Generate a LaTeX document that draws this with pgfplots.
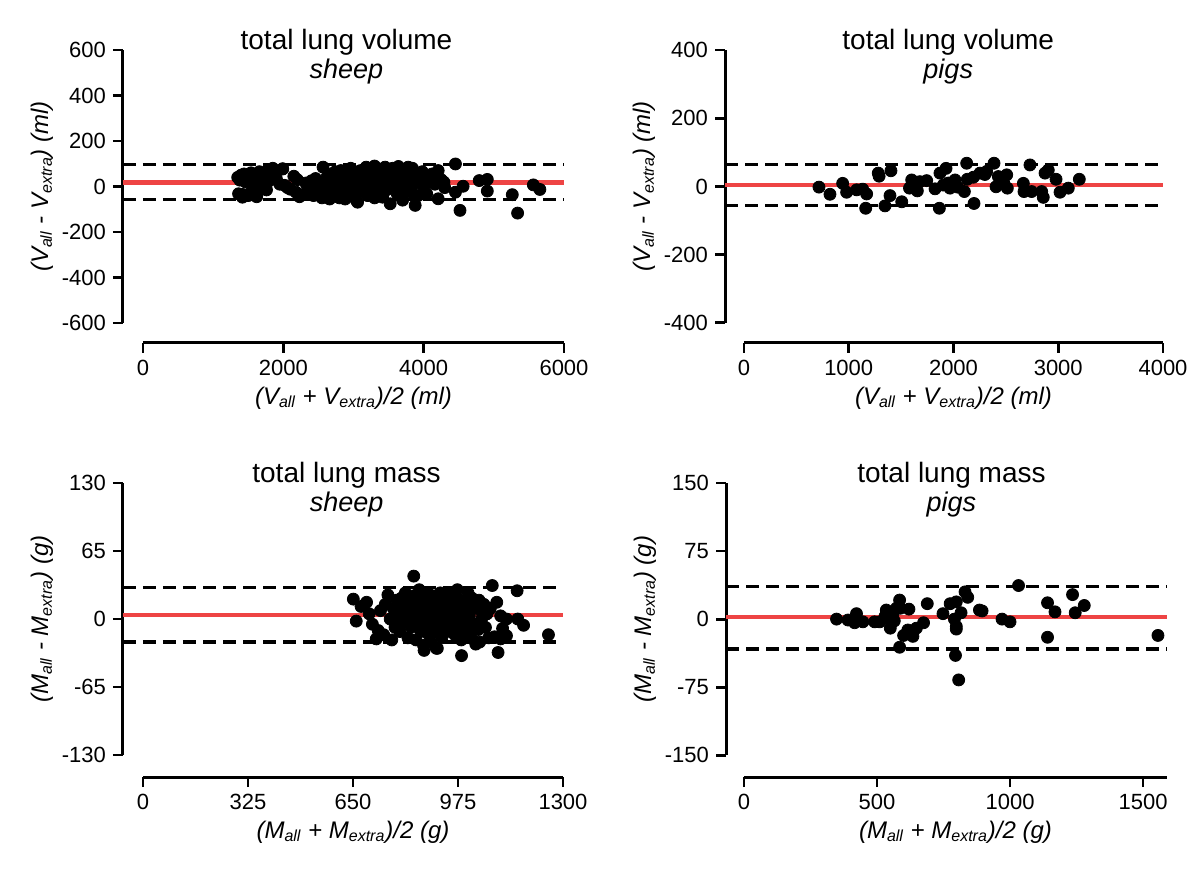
\documentclass[border=0pt]{standalone}
\usepackage{fontspec}
\setmainfont{Liberation Sans}
\usepackage{pgfplots}
\pgfplotsset{compat=1.18}
\definecolor{meanred}{RGB}{238,68,68}
\pgfplotsset{
 ba/.style={
   scale only axis,
   axis x line*=bottom, axis y line*=left,
   axis line style={draw=none},
   tick style={black, line width=1.4pt},
   major tick length=5pt, tick align=outside,
   ticklabel style={font=\fontsize{11}{13}\selectfont},
   /pgf/number format/assume math mode=true,
   /pgf/number format/set thousands separator={},
   clip=false,
 },
}
\tikzset{
 dots/.style={only marks, mark=*, mark size=3pt, black},
 meanline/.style={meanred, line width=2.2pt},
 limline/.style={black, line width=1.6pt, dash pattern=on 6.5pt off 3.5pt},
 axl/.style={line width=1.5pt, black},
 tit/.style={font=\fontsize{14}{16}\selectfont},
 titi/.style={font=\fontsize{13.5}{16}\selectfont\itshape},
 lab/.style={font=\fontsize{12}{14}\selectfont\itshape},
}
\begin{document}
\begin{tikzpicture}
\path[use as bounding box] (0,0) rectangle (600pt,434pt);
% ---------------- panel 1: volume sheep
\begin{axis}[ba, at={(61.5pt,262.5pt)}, anchor=south west, width=220.5pt, height=146.5pt,
 xmin=-285, xmax=6000, ymin=-688, ymax=600,
 xtick={0,2000,4000,6000}, ytick={-600,-400,-200,0,200,400,600}]
\draw[axl] (axis cs:0,-688) -- (axis cs:6000,-688);
\draw[axl] (axis cs:-285,-600) -- (axis cs:-285,600);
\addplot[meanline] coordinates {(-285,18) (6000,18)};
\addplot[limline] coordinates {(-285,95) (6000,95)};
\addplot[limline] coordinates {(-285,-58) (6000,-58)};
\addplot[dots] coordinates {
(1350,40)(1380,28)(1400,50)(1420,-35)(1440,55)(1460,20)(1480,45)(1500,-40)(1520,35)(1540,60)
(1550,-20)(1570,10)(1600,45)(1620,-45)(1640,30)(1660,65)(1680,-10)(1700,50)(1720,15)(1740,40)
(1760,-15)(1780,70)(1800,25)(1820,55)(1850,80)(1870,60)(1900,35)(1950,10)(1990,78)(2020,5)
(2060,-5)(2100,-12)(2150,45)(2180,-25)(2200,30)(2230,-45)(2280,-35)(2320,15)(2360,-20)(2400,25)
(2430,-40)(2460,35)(2500,-10)(2520,10)(2550,-50)(2566,85)(2580,20)(2600,-30)(2620,40)(2640,0)
(2660,-55)(2680,55)(2700,15)(2720,-25)(2740,65)(2760,30)(2780,-45)(2800,5)(2820,70)(2840,-15)
(2860,40)(2880,-55)(2900,25)(2920,60)(2940,-5)(2960,80)(2980,15)(3000,-35)(3020,45)(3040,-60)
(3058,-69)(3080,30)(3100,70)(3120,-20)(3140,50)(3160,10)(3180,85)(3200,-40)(3222,-32)(3240,35)
(3260,60)(3280,-10)(3300,90)(3320,20)(3340,45)(3360,-25)(3380,75)(3400,5)(3414,-47)(3430,55)
(3450,85)(3470,-15)(3490,30)(3510,65)(3523,-76)(3540,-5)(3560,80)(3580,40)(3600,15)(3620,-30)
(3640,88)(3660,50)(3680,-45)(3700,20)(3720,70)(3740,-10)(3760,35)(3780,85)(3800,55)(3820,-25)
(3840,80)(3860,10)(3879,-83)(3900,40)(3920,-40)(3950,20)(3980,65)(4000,0)(4043,-32)(4080,35)
(4120,55)(4160,10)(4207,70)(4207,-54)(4250,30)(4289,19)(4300,-5)(4453,99)(4453,-25)(4518,-105)
(4562,1)(4792,26)(4907,31)(4907,-20)(5263,-36)(5339,-117)(5563,7)(5656,-13)(1362,-32)(1417,-47)
(1991,77)(2800,-50)(3500,0)(3300,-50)(3700,-60)(2750,40)(2950,45)(3150,30)(3350,60)(3550,50)
(3050,10)(3250,5)(3450,25)(3650,-15)(2850,20)(3750,45)(3850,60)(2650,25)(2450,-25)(2350,5)
};
\node[tit] at ([yshift=4pt]axis cs:2900,600) {total lung volume};
\node[titi] at ([yshift=-11pt]axis cs:2900,600) {sheep};
\node[lab] at ([yshift=-27.5pt]axis cs:3000,-688) {(V\textsubscript{all} + V\textsubscript{extra})/2 (ml)};
\node[lab,rotate=90] at ([xshift=-40.5pt]axis cs:-285,0) {(V\textsubscript{all} - V\textsubscript{extra}) (ml)};
\end{axis}
% ---------------- panel 2: volume pigs
\begin{axis}[ba, at={(362.5pt,262.5pt)}, anchor=south west, width=219pt, height=146.5pt,
 xmin=-181, xmax=4000, ymin=-459, ymax=400,
 xtick={0,1000,2000,3000,4000}, ytick={-400,-200,0,200,400}]
\draw[axl] (axis cs:0,-459) -- (axis cs:4000,-459);
\draw[axl] (axis cs:-181,-400) -- (axis cs:-181,400);
\addplot[meanline] coordinates {(-181,4) (4000,4)};
\addplot[limline] coordinates {(-181,65) (4000,65)};
\addplot[limline] coordinates {(-181,-56) (4000,-56)};
\addplot[dots] coordinates {
(716,-2)(821,-23)(942,9)(980,-17)(1076,-10)(1133,-8)(1171,-22)(1162,-64)(1282,39)(1290,30)
(1403,46)(1346,-57)(1394,-27)(1506,-45)(1601,19)(1617,4)(1655,-13)(1680,14)(1744,17)(1824,-7)
(1865,-64)(1871,39)(1929,53)(1903,4)(1967,-5)(2015,19)(2104,-15)(2126,68)(2132,21)(2190,27)
(2196,-50)(2253,39)(2317,44)(2387,68)(2406,-1)(2428,29)(2508,34)(2514,-5)(2667,9)(2673,-15)
(2730,63)(2746,-15)(2842,-15)(2857,-32)(2874,39)(2905,48)(2979,21)(3017,-17)(3096,-5)(3201,21)
(1951,10)(2480,9)(1580,-5)(2040,-2)(2300,35)
};
\node[tit] at ([yshift=4pt]axis cs:1950,400) {total lung volume};
\node[titi] at ([yshift=-11pt]axis cs:1950,400) {pigs};
\node[lab] at ([yshift=-27.5pt]axis cs:2000,-459) {(V\textsubscript{all} + V\textsubscript{extra})/2 (ml)};
\node[lab,rotate=90] at ([xshift=-40.5pt]axis cs:-181,0) {(V\textsubscript{all} - V\textsubscript{extra}) (ml)};
\end{axis}
% ---------------- panel 3: mass sheep
\begin{axis}[ba, at={(61.5pt,45.5pt)}, anchor=south west, width=220pt, height=147pt,
 xmin=-62, xmax=1300, ymin=-151, ymax=130,
 xtick={0,325,650,975,1300}, ytick={-130,-65,0,65,130}]
\draw[axl] (axis cs:0,-151) -- (axis cs:1300,-151);
\draw[axl] (axis cs:-62,-130) -- (axis cs:-62,130);
\addplot[meanline] coordinates {(-62,4) (1300,4)};
\addplot[limline] coordinates {(-62,30) (1300,30)};
\addplot[limline] coordinates {(-62,-22) (1300,-22)};
\addplot[dots] coordinates {
(651,19)(660,-2)(675,12)(692,16)(700,5)(710,-5)(722,-19)(728,-11)(735,8)(745,-15)
(750,14)(758,23)(765,0)(770,-20)(775,10)(780,-8)(785,18)(790,3)(795,-12)(800,20)
(805,8)(810,-3)(812,25)(815,15)(820,-18)(822,5)(825,12)(830,-8)(835,22)(838,41)
(840,2)(845,-20)(848,15)(850,8)(852,-5)(855,28)(858,18)(860,-12)(862,3)(865,10)
(868,-25)(870,-30)(872,20)(875,5)(878,-8)(880,15)(882,25)(885,-15)(888,0)(890,10)
(892,-22)(895,18)(898,6)(900,-4)(902,22)(905,12)(908,-28)(910,2)(911,-28)(915,15)
(918,-10)(920,25)(922,5)(925,-18)(928,12)(930,-2)(935,20)(938,8)(940,-12)(945,25)
(948,0)(950,15)(955,-8)(958,22)(960,5)(965,-15)(970,12)(973,28)(978,-5)(980,18)
(985,-20)(986,-35)(990,8)(995,-10)(1000,15)(1006,25)(1010,3)(1015,-15)(1020,12)(1025,-5)
(1030,-24)(1035,10)(1040,18)(1042,-22)(1048,0)(1055,14)(1060,-8)(1065,5)(1070,-18)(1075,10)
(1081,32)(1088,-17)(1095,16)(1099,-32)(1107,3)(1107,-19)(1113,-9)(1125,0)(1125,-16)(1158,27)
(1160,0)(1178,-6)(1255,-15)(818,10)(842,-2)(863,20)(883,8)(903,-12)(923,14)(943,-5)
(953,10)(963,20)(983,2)(1003,-2)(1018,20)(1038,-10)(1052,8)(828,0)(808,12)(798,-5)
};
\node[tit] at ([yshift=4pt]axis cs:630,130) {total lung mass};
\node[titi] at ([yshift=-11pt]axis cs:630,130) {sheep};
\node[lab] at ([yshift=-27.5pt]axis cs:650,-151) {(M\textsubscript{all} + M\textsubscript{extra})/2 (g)};
\node[lab,rotate=90] at ([xshift=-40.5pt]axis cs:-62,0) {(M\textsubscript{all} - M\textsubscript{extra}) (g)};
\end{axis}
% ---------------- panel 4: mass pigs
\begin{axis}[ba, at={(363pt,45.5pt)}, anchor=south west, width=220.5pt, height=147pt,
 xmin=-67.5, xmax=1590, ymin=-174, ymax=150,
 xtick={0,500,1000,1500}, ytick={-150,-75,0,75,150}]
\draw[axl] (axis cs:0,-174) -- (axis cs:1590,-174);
\draw[axl] (axis cs:-67.5,-150) -- (axis cs:-67.5,150);
\addplot[meanline] coordinates {(-67.5,2) (1590,2)};
\addplot[limline] coordinates {(-67.5,36) (1590,36)};
\addplot[limline] coordinates {(-67.5,-33) (1590,-33)};
\addplot[dots] coordinates {
(348,0)(391,-1)(423,6)(416,-4)(447,-3)(491,-3)(510,-3)(535,10)(541,1)(550,-10)
(560,5)(573,12)(585,21)(588,12)(585,-31)(600,-18)(620,11)(616,-12)(635,-19)(648,-10)
(675,-4)(689,17)(748,6)(775,17)(798,19)(791,0)(798,-8)(798,-11)(816,7)(795,-40)
(807,-67)(831,30)(841,24)(885,10)(895,9)(970,0)(1000,-3)(1032,37)(1141,18)(1169,8)
(1141,-20)(1235,27)(1245,7)(1279,15)(1556,-18)(530,3)(565,-2)
};
\node[tit] at ([yshift=4pt]axis cs:780,150) {total lung mass};
\node[titi] at ([yshift=-11pt]axis cs:780,150) {pigs};
\node[lab] at ([yshift=-27.5pt]axis cs:795,-174) {(M\textsubscript{all} + M\textsubscript{extra})/2 (g)};
\node[lab,rotate=90] at ([xshift=-40.5pt]axis cs:-67.5,0) {(M\textsubscript{all} - M\textsubscript{extra}) (g)};
\end{axis}
\end{tikzpicture}
\end{document}
